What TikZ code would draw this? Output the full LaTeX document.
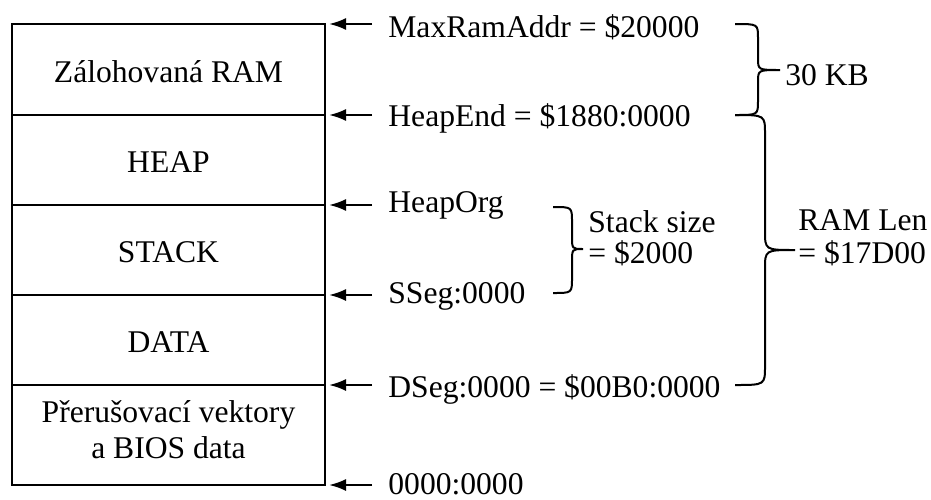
\documentclass[tikz,border=0pt]{standalone}
\usepackage{fontspec}
\setmainfont{Liberation Serif}
\usetikzlibrary{arrows.meta}
\tikzset{
  memline/.style={line width=1.1pt},
  addrarrow/.style={line width=1.1pt,-{Latex[length=8.5pt,width=6pt]},shorten >=2pt},
  sizebrace/.style={line width=1pt},
  cell/.style={anchor=base,inner sep=0pt,font=\fontsize{15.8}{19}\selectfont},
  lbl/.style={anchor=base west,inner sep=0pt,font=\fontsize{15.8}{19}\selectfont},
}

\begin{document}
\begin{tikzpicture}[x=0.5pt,y=-0.5pt]
    \useasboundingbox (0,0) rectangle (931,499);

    % coordinates to be reused
    \coordinate (eMax) at (325,24);
    \coordinate (eEnd) at (325,115);
    \coordinate (eOrg) at (325,205);
    \coordinate (eSeg) at (325,295);
    \coordinate (eDat) at (325,385);
    \coordinate (eZero) at (325,485);
    \coordinate (tMax) at (372,24);
    \coordinate (tEnd) at (372,115);
    \coordinate (tOrg) at (372,205);
    \coordinate (tSeg) at (372,295);
    \coordinate (tDat) at (372,385);
    \coordinate (tZero) at (372,485);

    % memory map
    \draw[memline] (12,24) rectangle (325,485);
    \draw[memline] (12,115) -- (eEnd);
    \draw[memline] (12,205) -- (eOrg);
    \draw[memline] (12,295) -- (eSeg);
    \draw[memline] (12,385) -- (eDat);

    \node[cell] (zram) at (168.5,82) {Zálohovaná RAM};
    \node[cell] (heap) at (168.5,172) {HEAP};
    \node[cell] (stack) at (168.5,262) {STACK};
    \node[cell] (data) at (168.5,352) {DATA};
    \node[cell] (bios) at (168.5,422) {Přerušovací vektory};
    \node[cell] (biosb) at (168.5,458) {a BIOS data};

    % addresses
    \draw[addrarrow] (tMax) -- (eMax);
    \draw[addrarrow] (tEnd) -- (eEnd);
    \draw[addrarrow] (tOrg) -- (eOrg);
    \draw[addrarrow] (tSeg) -- (eSeg);
    \draw[addrarrow] (tDat) -- (eDat);
    \draw[addrarrow] (tZero) -- (eZero);
    \node[lbl] (maxram) at (388,37) {MaxRamAddr = \$20000};
    \node[lbl] (heapend) at (388,126) {HeapEnd = \$1880:0000};
    \node[lbl] (heaporg) at (388,212) {HeapOrg};
    \node[lbl] (sseg) at (388,303) {SSeg:0000};
    \node[lbl] (dseg) at (388,397) {DSeg:0000 = \$00B0:0000};
    \node[lbl] (zero) at (388,494) {0000:0000};

    % braces
    \draw[sizebrace] (735,24) .. controls (758,24) .. (758,38) -- (758,58)
      .. controls (758,70) .. (780,70) .. controls (758,70) .. (758,82)
      -- (758,101) .. controls (758,115) .. (735,115);
    \draw[sizebrace] (553,207) .. controls (572,207) .. (572,222) -- (572,236)
      .. controls (572,249) .. (583,249) .. controls (572,249) .. (572,262)
      -- (572,278) .. controls (572,293) .. (553,293);
    \draw[sizebrace] (735,115) .. controls (765,115) .. (765,134) -- (765,231)
      .. controls (765,250) .. (795,250) .. controls (765,250) .. (765,269)
      -- (765,366) .. controls (765,385) .. (735,385);

    \node[lbl] (kb) at (785,85) {30 KB};
    \node[lbl] (stsize) at (588,232) {Stack size};
    \node[lbl] (stval) at (588,263) {= \$2000};
    \node[lbl] (ramlen) at (798,230) {RAM Len};
    \node[lbl] (ramval) at (798,263) {= \$17D00};
\end{tikzpicture}
\end{document}
